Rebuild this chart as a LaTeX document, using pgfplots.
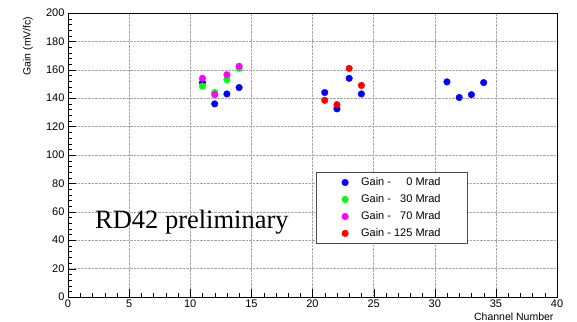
\documentclass[border=0pt]{standalone}
\usepackage{pgfplots}
\pgfplotsset{compat=1.18}
\usepackage{fontspec}
\setmainfont{Liberation Sans}
\newfontfamily\seriffont{Liberation Serif}
\definecolor{rblue}{RGB}{0,0,255}
\definecolor{rgreen}{RGB}{0,255,0}
\definecolor{rmag}{RGB}{255,0,255}
\definecolor{rred}{RGB}{255,0,0}
\begin{document}
\begin{tikzpicture}
\begin{axis}[
  scale only axis, width=489pt, height=284pt,
  xmin=0, xmax=40, ymin=0, ymax=200,
  xtick distance=5, ytick distance=20, minor tick num=4,
  tick pos=left, tick align=inside,
  major tick length=8pt, minor tick length=4pt,
  grid=major, major grid style={densely dotted, gray!70},
  axis line style={black}, tick style={black},
  /pgf/number format/assume math mode=true,
  ticklabel style={font=\fontsize{11}{11}\selectfont},
  xticklabel style={yshift=1pt},
  xlabel={Channel Number}, ylabel={Gain (mV/fc)},
  xlabel style={at={(axis description cs:1,0)}, anchor=north east, yshift=-12pt, font=\fontsize{10.5}{10.5}\selectfont},
  ylabel style={at={(axis description cs:-0.065,1)}, anchor=south east, font=\fontsize{10.5}{10.5}\selectfont},
  legend style={at={(rel axis cs:0.507,0.440)}, anchor=north west, draw=black!70, fill=white,
    font=\fontsize{11}{11}\selectfont, inner xsep=0pt, inner ysep=3.5pt, row sep=3.5pt},
  legend image code/.code={\path[draw=none, fill=none] (0pt,-2pt) rectangle (36pt,2pt); \draw[#1] plot coordinates {(29pt,0pt)};},
  legend cell align=left,
]
\addplot[only marks, mark=*, mark size=3.3pt, color=rblue] coordinates {
 (11,151) (12,136) (13,143) (14,147.5) (21,144) (22,132.5) (23,154) (24,143)
 (31,151.5) (32,140.5) (33,142.5) (34,151)};
\addlegendentry{\kern7pt Gain - \phantom{12}0 Mrad\rule{25pt}{0pt}}
\addplot[only marks, mark=*, mark size=3.3pt, color=rgreen] coordinates {
 (11,148.5) (12,144) (13,153) (14,161)};
\addlegendentry{\kern7pt Gain - \phantom{1}30 Mrad\rule{25pt}{0pt}}
\addplot[only marks, mark=*, mark size=3.3pt, color=rmag] coordinates {
 (11,154) (12,142.5) (13,156.5) (14,162.5)};
\addlegendentry{\kern7pt Gain - \phantom{1}70 Mrad\rule{25pt}{0pt}}
\addplot[only marks, mark=*, mark size=3.3pt, color=rred] coordinates {
 (21,138.5) (22,135.5) (23,161) (24,149)};
\addlegendentry{\kern7pt Gain - 125 Mrad\rule{25pt}{0pt}}
\node[anchor=west, font=\seriffont\fontsize{26.5}{26.5}\selectfont, inner sep=0pt] at (axis cs:2.2,53) {RD42 preliminary};
\end{axis}
\pgfresetboundingbox
\path[use as bounding box] (-68pt,-24pt) rectangle (509pt,297pt);
\end{tikzpicture}
\end{document}
